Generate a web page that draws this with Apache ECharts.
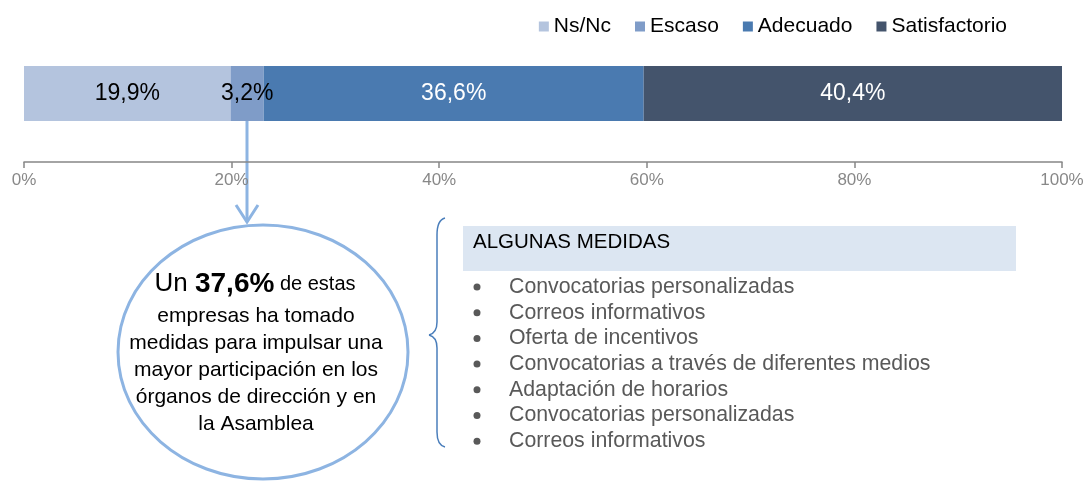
<!DOCTYPE html>
<html>
<head>
<meta charset="utf-8">
<script src="https://cdn.jsdelivr.net/npm/echarts@6/dist/echarts.min.js"></script>
<style>
  html, body { margin: 0; padding: 0; background: #fff; }
  #chart { width: 1087px; height: 483px; }
</style>
</head>
<body>
<div id="chart"></div>
<script>
// datos del grafico
var categorias = ['Empresas'];
var seriesNombres = ['Ns/Nc', 'Escaso', 'Adecuado', 'Satisfactorio'];
var valores = [19.9, 3.2, 36.6, 40.4];
var ticks = [0, 20, 40, 60, 80, 100];
var medidas = [
    'Convocatorias personalizadas',
    'Correos informativos',
    'Oferta de incentivos',
    'Convocatorias a través de diferentes medios',
    'Adaptación de horarios',
    'Convocatorias personalizadas',
    'Correos informativos'
];
var colores = ['#b4c4de', '#7f9cc8', '#4a7ab0', '#44546c'];
var coloresEtiqueta = ['#000', '#000', '#fff', '#fff'];

var chart = echarts.init(document.getElementById('chart'));
var fuente = '"Liberation Sans", Arial, sans-serif';

var series = [];
for (var i = 0; i < seriesNombres.length; i++) {
    series.push({
        name: seriesNombres[i],
        type: 'bar',
        stack: 'total',
        barWidth: 55,
        itemStyle: { color: colores[i] },
        label: {
            show: true,
            position: 'inside',
            color: coloresEtiqueta[i],
            fontSize: 23,
            fontFamily: fuente,
            formatter: function (p) {
                return p.value.toFixed(1).replace('.', ',') + '%';
            }
        },
        data: [valores[i]]
    });
}

var graficos = [];
var azul = '#8db4e2';

// flecha
graficos.push({
    type: 'line', shape: { x1: 247, y1: 121, x2: 247, y2: 222 },
    style: { stroke: azul, lineWidth: 3 }
});
graficos.push({
    type: 'polyline', shape: { points: [[236, 205], [247, 222], [258, 205]] },
    style: { stroke: azul, lineWidth: 3, fill: null }
});
// elipse
graficos.push({
    type: 'ellipse', shape: { cx: 263, cy: 352, rx: 145, ry: 127 },
    style: { stroke: azul, lineWidth: 3, fill: '#fff' }
});
graficos.push({
    type: 'text', x: 255, y: 284,
    style: {
        text: '{a|Un }{b|37,6%}{c| de estas}',
        align: 'center', verticalAlign: 'middle',
        rich: {
            a: { fontSize: 26, fontFamily: fuente, fill: '#000' },
            b: { fontSize: 28, fontWeight: 'bold', fontFamily: fuente, fill: '#000' },
            c: { fontSize: 20, fontFamily: fuente, fill: '#000' }
        }
    }
});
var lineasElipse = ['empresas ha tomado', 'medidas para impulsar una', 'mayor participación en los', 'órganos de dirección y en', 'la Asamblea'];
for (var k = 0; k < lineasElipse.length; k++) {
    graficos.push({
        type: 'text', x: 256, y: 316 + k * 27,
        style: {
            text: lineasElipse[k], align: 'center', verticalAlign: 'middle',
            fontSize: 21, fontFamily: fuente, fill: '#000'
        }
    });
}
// llave
var llave = { stroke: '#4a7ebb', lineWidth: 1.5, fill: null };
graficos.push({ type: 'bezierCurve', shape: { x1: 445, y1: 218, cpx1: 437, cpy1: 220, x2: 437, y2: 235 }, style: llave });
graficos.push({ type: 'line', shape: { x1: 437, y1: 235, x2: 437, y2: 322 }, style: llave });
graficos.push({ type: 'bezierCurve', shape: { x1: 437, y1: 322, cpx1: 437, cpy1: 333, x2: 429, y2: 335 }, style: llave });
graficos.push({ type: 'bezierCurve', shape: { x1: 429, y1: 335, cpx1: 437, cpy1: 337, x2: 437, y2: 348 }, style: llave });
graficos.push({ type: 'line', shape: { x1: 437, y1: 348, x2: 437, y2: 432 }, style: llave });
graficos.push({ type: 'bezierCurve', shape: { x1: 437, y1: 432, cpx1: 437, cpy1: 445, x2: 445, y2: 447 }, style: llave });
// caja titulo
graficos.push({
    type: 'rect', shape: { x: 463, y: 226, width: 553, height: 45 },
    style: { fill: '#dce6f2' }
});
graficos.push({
    type: 'text', x: 473, y: 242,
    style: { text: 'ALGUNAS MEDIDAS', verticalAlign: 'middle', fontSize: 20.5, fontFamily: fuente, fill: '#000' }
});
// lista de medidas
for (var m = 0; m < medidas.length; m++) {
    graficos.push({
        type: 'circle', shape: { cx: 477, cy: 287 + m * 25.7, r: 3.5 },
        style: { fill: '#595959' }
    });
    graficos.push({
        type: 'text', x: 509, y: 287 + m * 25.7,
        style: { text: medidas[m], verticalAlign: 'middle', fontSize: 21.3, fontFamily: fuente, fill: '#595959' }
    });
}

var option = {
    animation: false,
    legend: {
        data: seriesNombres,
        right: 75,
        top: 11,
        itemWidth: 10,
        itemHeight: 10,
        itemGap: 24,
        icon: 'rect',
        textStyle: { fontSize: 21, fontFamily: fuente, color: '#000' }
    },
    grid: { left: 24, right: 25, top: 25, bottom: 321 },
    xAxis: {
        type: 'value',
        min: ticks[0],
        max: ticks[ticks.length - 1],
        interval: ticks[1] - ticks[0],
        splitLine: { show: false },
        axisLine: { show: true, lineStyle: { color: '#868686', width: 1.5 } },
        axisTick: { show: true, length: 6, lineStyle: { color: '#868686', width: 1.5 } },
        axisLabel: { formatter: '{value}%', fontSize: 17, fontFamily: fuente, color: '#888', margin: 10 }
    },
    yAxis: {
        type: 'category',
        data: categorias,
        show: false
    },
    series: series,
    graphic: graficos
};
chart.setOption(option);
window.onresize = chart.resize;
</script>
</body>
</html>
